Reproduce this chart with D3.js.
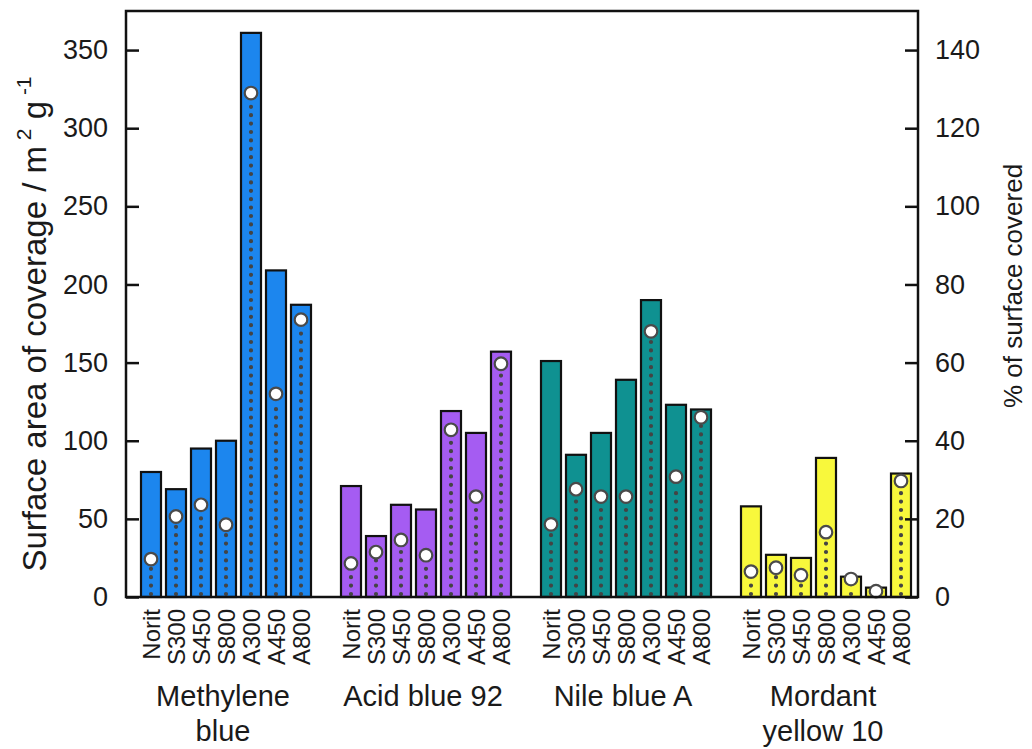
<!DOCTYPE html>
<html>
<head>
<meta charset="utf-8">
<script src="https://cdn.jsdelivr.net/npm/d3@7"></script>
<style>
  html, body { margin: 0; padding: 0; background: #fff; }
  svg text { font-family: "Liberation Sans", Arial, sans-serif; fill: #1a1a1a; }
</style>
</head>
<body>
<svg id="chart" width="1032" height="749"></svg>
<script>
// Carbon samples (x categories within each dye group)
const samples = ["Norit", "S300", "S450", "S800", "A300", "A450", "A800"];
// Dye groups
const dyes = ["Methylene blue", "Acid blue 92", "Nile blue A", "Mordant yellow 10"];
const dyeLabelLines = [["Methylene", "blue"], ["Acid blue 92"], ["Nile blue A"], ["Mordant", "yellow 10"]];
const dyeColors = ["#1c86ee", "#a55cf2", "#0f9191", "#f8f83c"];

// Surface area of coverage, m2 g-1 (bars, left axis)
const coverageMethyleneBlue = [80, 69, 95, 100, 361, 209, 187];
const coverageAcidBlue92 = [71, 39, 59, 56, 119, 105, 157];
const coverageNileBlueA = [151, 91, 105, 139, 190, 123, 120];
const coverageMordantYellow10 = [58, 27, 25, 89, 13, 6, 79];

// % of surface covered (circles, right axis)
const percentMethyleneBlue = [9.7, 20.6, 23.6, 18.5, 129, 52, 71];
const percentAcidBlue92 = [8.6, 11.5, 14.6, 10.7, 42.8, 25.7, 59.7];
const percentNileBlueA = [18.6, 27.6, 25.7, 25.7, 68, 30.8, 46];
const percentMordantYellow10 = [6.5, 7.5, 5.6, 16.6, 4.6, 1.5, 29.7];

// Axis ticks
const leftTicks = [0, 50, 100, 150, 200, 250, 300, 350];
const rightTicks = [0, 20, 40, 60, 80, 100, 120, 140];

const coverage = [coverageMethyleneBlue, coverageAcidBlue92, coverageNileBlueA, coverageMordantYellow10];
const percent = [percentMethyleneBlue, percentAcidBlue92, percentNileBlueA, percentMordantYellow10];

const rows = [];
dyes.forEach((dye, g) => {
  samples.forEach((s, i) => {
    rows.push({ dye, sample: s, g, area: coverage[g][i], pct: percent[g][i] });
  });
});

const svg = d3.select("#chart");
const L = 126, R = 918, T = 11, B = 597;

const yLeft = d3.scaleLinear().domain([0, 375]).range([B, T]);
const yRight = d3.scaleLinear().domain([0, 150]).range([B, T]);

const xGroup = d3.scaleBand().domain(dyes).range([L + 12.5, R - 4.5])
  .paddingInner(0.125).paddingOuter(0);
const xBar = d3.scaleBand().domain(samples).range([0, xGroup.bandwidth()])
  .paddingInner(0.2).paddingOuter(0.1);

const barX = d => xGroup(d.dye) + xBar(d.sample);
const barCx = d => barX(d) + xBar.bandwidth() / 2;

// Bars
svg.append("g").selectAll("rect").data(rows).join("rect")
  .attr("x", barX)
  .attr("y", d => yLeft(d.area))
  .attr("width", xBar.bandwidth())
  .attr("height", d => yLeft(0) - yLeft(d.area))
  .attr("fill", d => dyeColors[d.g])
  .attr("stroke", "#111")
  .attr("stroke-width", 2.2);

// Dotted drop lines from each circle to the baseline
const dotR = 6.3;
svg.append("g").selectAll("line").data(rows).join("line")
  .attr("x1", barCx).attr("x2", barCx)
  .attr("y1", yRight(0) - 3)
  .attr("y2", d => Math.min(yRight(d.pct) + dotR + 2, yRight(0) - 3))
  .attr("stroke", "#444")
  .attr("stroke-width", 4.2)
  .attr("stroke-linecap", "round")
  .attr("stroke-dasharray", "0 8.4");

// Circles (% of surface covered)
svg.append("g").selectAll("circle").data(rows).join("circle")
  .attr("cx", barCx)
  .attr("cy", d => yRight(d.pct))
  .attr("r", dotR)
  .attr("fill", "#fff")
  .attr("stroke", "#4a4a4a")
  .attr("stroke-width", 2.2);

// Frame
svg.append("rect")
  .attr("x", L).attr("y", T).attr("width", R - L).attr("height", B - T)
  .attr("fill", "none").attr("stroke", "#111").attr("stroke-width", 2.5);

// Left axis (ticks pointing inward)
const leftAxis = svg.append("g").attr("transform", `translate(${L},0)`)
  .call(d3.axisLeft(yLeft).tickValues(leftTicks).tickSizeInner(-13).tickSizeOuter(0).tickPadding(18));
// Right axis (ticks pointing inward)
const rightAxis = svg.append("g").attr("transform", `translate(${R},0)`)
  .call(d3.axisRight(yRight).tickValues(rightTicks).tickSizeInner(-13).tickSizeOuter(0).tickPadding(17));

[leftAxis, rightAxis].forEach(a => {
  a.select(".domain").remove();
  a.selectAll(".tick line").attr("stroke", "#111").attr("stroke-width", 2.5);
  a.selectAll(".tick text").attr("font-size", 27).attr("fill", "#1a1a1a")
    .attr("font-family", "Liberation Sans, Arial, sans-serif");
});

// Sample labels (rotated)
svg.append("g").selectAll("text").data(rows).join("text")
  .attr("transform", d => `translate(${barCx(d)},${B + 12}) rotate(-90)`)
  .attr("text-anchor", "end")
  .attr("dy", "0.36em")
  .attr("font-size", 24)
  .text(d => d.sample);

// Dye group labels
dyes.forEach((dye, g) => {
  const cx = xGroup(dye) + xGroup.bandwidth() / 2 - 3;
  const t = svg.append("text")
    .attr("x", cx).attr("y", 706)
    .attr("text-anchor", "middle")
    .attr("font-size", 29);
  dyeLabelLines[g].forEach((line, k) => {
    t.append("tspan").attr("x", cx).attr("dy", k === 0 ? 0 : 35).text(line);
  });
});

// Left axis title
const lt = svg.append("text")
  .attr("transform", "translate(46,324) rotate(-90)")
  .attr("text-anchor", "middle")
  .attr("font-size", 33);
lt.append("tspan").text("Surface area of coverage / m");
lt.append("tspan").attr("font-size", 21).attr("dy", -15).text(" 2");
lt.append("tspan").attr("dy", 15).text(" g");
lt.append("tspan").attr("font-size", 21).attr("dy", -15).text(" -1");

// Right axis title
svg.append("text")
  .attr("transform", "translate(1022,286) rotate(-90)")
  .attr("text-anchor", "middle")
  .attr("font-size", 26)
  .attr("fill", "#333")
  .text("% of surface covered");
</script>
</body>
</html>
